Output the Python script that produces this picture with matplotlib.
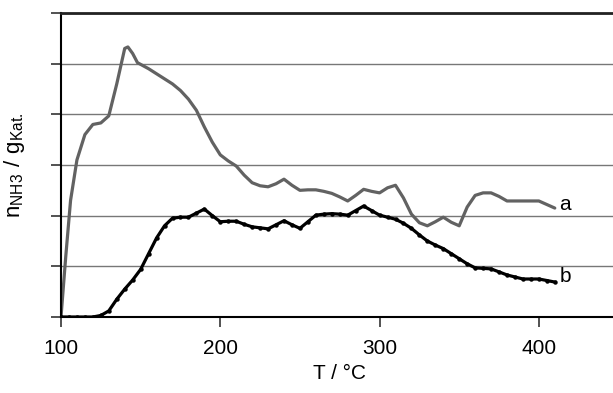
import matplotlib
matplotlib.use("Agg")
import matplotlib.pyplot as plt

plt.rcParams['font.family'] = ['Liberation Sans', 'DejaVu Sans']
plt.rcParams['mathtext.fontset'] = 'custom'
plt.rcParams['mathtext.rm'] = 'Liberation Sans'

# Curve a (gray)
temp_a = [100, 103, 106, 110, 115, 120, 125, 130, 135, 140, 142, 145, 148, 155, 160, 165,
          170, 175, 180, 185, 190, 195, 200, 205, 210, 215, 220, 225, 230, 235, 240, 245,
          250, 255, 260, 265, 270, 275, 280, 285, 290, 295, 300, 305, 310, 315, 320, 325,
          330, 335, 340, 345, 350, 355, 360, 365, 370, 375, 380, 385, 390, 395, 400, 405, 410]
val_a = [0.0, 1.2, 2.3, 3.1, 3.6, 3.8, 3.83, 3.97, 4.6, 5.3, 5.33, 5.2, 5.02, 4.9, 4.8, 4.7,
         4.6, 4.47, 4.3, 4.08, 3.75, 3.45, 3.2, 3.08, 2.98, 2.8, 2.65, 2.59, 2.57, 2.63, 2.72, 2.6,
         2.5, 2.51, 2.51, 2.48, 2.44, 2.37, 2.29, 2.4, 2.52, 2.48, 2.45, 2.55, 2.6, 2.35, 2.03, 1.86,
         1.8, 1.88, 1.97, 1.87, 1.8, 2.17, 2.4, 2.45, 2.45, 2.38, 2.29, 2.29, 2.29, 2.29, 2.29, 2.22, 2.15]

# Curve b (black)
temp_b = [100, 105, 110, 115, 120, 125, 130, 135, 140, 145, 150, 155, 160, 165, 170, 175,
          180, 185, 190, 195, 200, 205, 210, 215, 220, 225, 230, 235, 240, 245, 250, 255,
          260, 265, 270, 275, 280, 285, 290, 295, 300, 305, 310, 315, 320, 325, 330, 335,
          340, 345, 350, 355, 360, 365, 370, 375, 380, 385, 390, 395, 400, 405, 410]
val_b = [0.0, 0.0, 0.0, 0.0, 0.0, 0.03, 0.12, 0.35, 0.55, 0.73, 0.94, 1.25, 1.56, 1.8, 1.95, 1.97,
         1.97, 2.05, 2.13, 2.0, 1.88, 1.89, 1.89, 1.83, 1.78, 1.76, 1.74, 1.82, 1.9, 1.82, 1.75, 1.88,
         2.01, 2.03, 2.04, 2.03, 2.01, 2.1, 2.19, 2.1, 2.01, 1.97, 1.93, 1.85, 1.75, 1.62, 1.5, 1.42,
         1.35, 1.25, 1.15, 1.05, 0.97, 0.96, 0.95, 0.89, 0.83, 0.79, 0.75, 0.75, 0.75, 0.72, 0.69]

x_ticks = [100, 200, 300, 400]
y_ticks = [0, 1, 2, 3, 4, 5, 6]

fig = plt.figure(figsize=(6.13, 3.93), dpi=100)
ax = fig.add_axes([61 / 613, 76 / 393, 557.5 / 613, 304 / 393])

ax.plot(temp_a, val_a, color='#626262', lw=2.3, solid_joinstyle='round', solid_capstyle='round')
ax.plot(temp_b, val_b, color='black', lw=2.3, marker='o', markersize=2.2,
        solid_joinstyle='round')

ax.text(413, val_a[-1] + 0.08, 'a', fontsize=15, ha='left', va='center')
ax.text(413, val_b[-1] + 0.1, 'b', fontsize=15, ha='left', va='center')

ax.set_xlim(100, 450)
ax.set_ylim(0, 6)
ax.set_xticks(x_ticks)
ax.set_xticklabels([str(t) for t in x_ticks], fontsize=15)
ax.set_yticks(y_ticks)
ax.set_yticklabels([])
ax.tick_params(axis='both', direction='out', length=7, width=1.2, color='#333333')
ax.tick_params(axis='x', pad=9)

ax.grid(axis='y', color='#777777', lw=1.0)
ax.set_axisbelow(True)

ax.spines['right'].set_visible(False)
ax.spines['top'].set_linewidth(2.0)
ax.spines['top'].set_color('#222222')
ax.spines['left'].set_linewidth(1.5)
ax.spines['bottom'].set_linewidth(1.5)

ax.set_xlabel('T / °C', fontsize=15, labelpad=4)
ax.set_ylabel(r'$\mathregular{n_{NH3}\ /\ g_{Kat.}}$', fontsize=16, labelpad=14)

fig.savefig('out.png', dpi=100)
